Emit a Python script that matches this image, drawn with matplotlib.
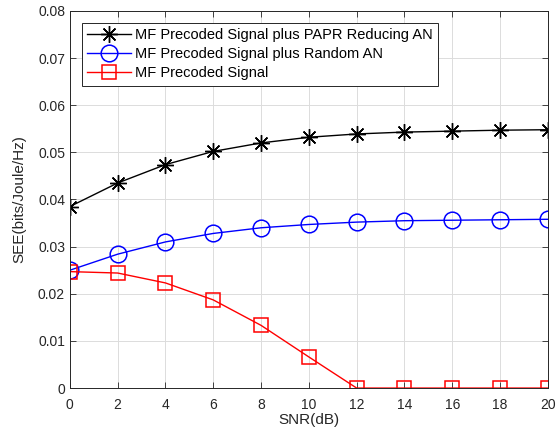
import matplotlib
matplotlib.use("Agg")
import matplotlib.pyplot as plt

plt.rcParams['font.family'] = ['Liberation Sans', 'DejaVu Sans']

snr = [0, 2, 4, 6, 8, 10, 12, 14, 16, 18, 20]
papr_an = [0.0385, 0.0435, 0.0474, 0.0502, 0.0520, 0.0532, 0.0539, 0.0543, 0.0545, 0.0547, 0.0548]
random_an = [0.0250, 0.0284, 0.0310, 0.0328, 0.0340, 0.0347, 0.0352, 0.0355, 0.0356, 0.0357, 0.0358]
mf_only = [0.0247, 0.0244, 0.0223, 0.0187, 0.0133, 0.0066, 0.0, 0.0, 0.0, 0.0, 0.0]
labels = ["MF Precoded Signal plus PAPR Reducing AN",
          "MF Precoded Signal plus Random AN",
          "MF Precoded Signal"]
xticks = [0, 2, 4, 6, 8, 10, 12, 14, 16, 18, 20]
yticks = [0, 0.01, 0.02, 0.03, 0.04, 0.05, 0.06, 0.07, 0.08]
ytick_labels = ["0", "0.01", "0.02", "0.03", "0.04", "0.05", "0.06", "0.07", "0.08"]

fig = plt.figure(figsize=(5.59, 4.37), dpi=100)
ax = fig.add_axes([0.125, 0.112, 0.855, 0.863])

ax.plot(snr, papr_an, color='black', marker=(8, 2, 0), markersize=12, linewidth=1.0,
        markeredgewidth=1.0, label=labels[0])
ax.plot(snr, random_an, color='blue', marker='o', markersize=12, linewidth=1.0,
        markerfacecolor='none', markeredgewidth=1.1, label=labels[1])
ax.plot(snr, mf_only, color='red', marker='s', markersize=9.5, linewidth=1.0,
        markerfacecolor='none', markeredgewidth=1.1, label=labels[2])

ax.set_xlim(0, 20)
ax.set_ylim(0, 0.08)
ax.set_xticks(xticks)
ax.set_yticks(yticks)
ax.set_yticklabels(ytick_labels)
ax.grid(True, color='#dcdcdc', linewidth=0.7)
ax.set_axisbelow(True)
ax.tick_params(direction='in', top=True, right=True, labelsize=10, colors='#262626',
               length=4, width=0.6)
ax.tick_params(axis='x', pad=7)
for s in ax.spines.values():
    s.set_color('#262626')
    s.set_linewidth(0.7)
ax.set_xlabel("SNR(dB)", fontsize=11, color='#262626', labelpad=1)
ax.set_ylabel("SEE(bits/Joule/Hz)", fontsize=11, color='#262626', labelpad=8)

leg = ax.legend(loc='upper left', bbox_to_anchor=(0.0, 1.0), fontsize=10.5,
                frameon=True, fancybox=False, edgecolor='#262626', framealpha=1,
                borderpad=0.35, labelspacing=0.36, handlelength=3.0, handletextpad=0.3,
                borderaxespad=0.82)
leg.get_frame().set_linewidth(0.7)

fig.savefig("out.png", dpi=100)
